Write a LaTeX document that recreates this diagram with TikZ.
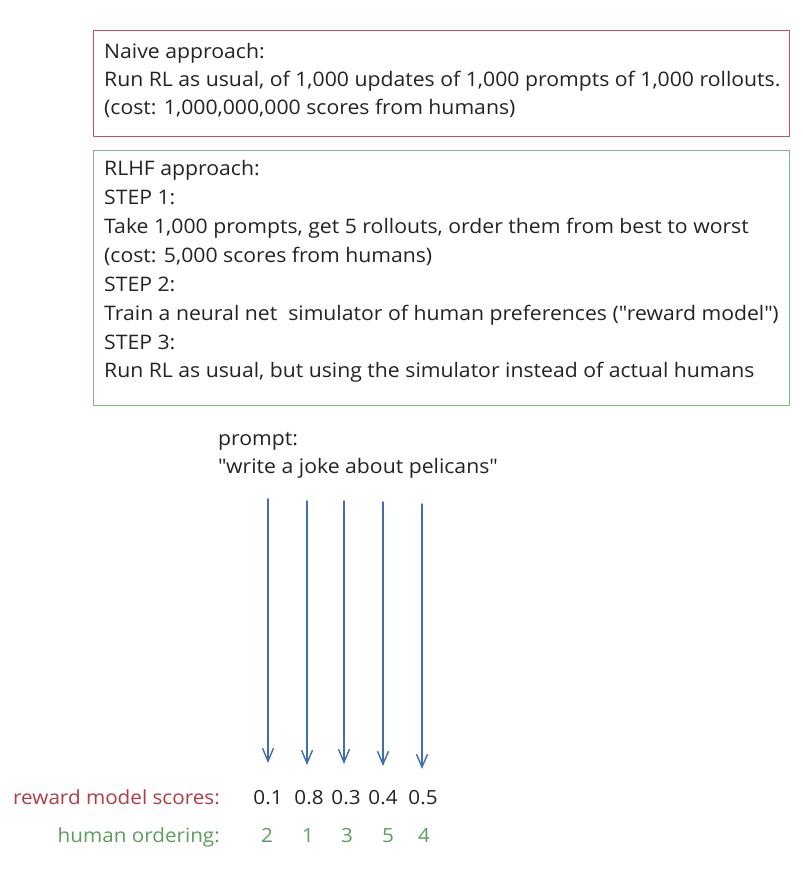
\documentclass[tikz,border=0pt]{standalone}
\usepackage{fontspec}
\setmainfont{Open Sans}[FakeStretch=1.06]
\usetikzlibrary{arrows.meta,positioning}
\definecolor{inkgray}{RGB}{35,35,35}
\definecolor{boxred}{RGB}{190,85,95}
\definecolor{labred}{RGB}{175,60,70}
\definecolor{boxgreen}{RGB}{125,185,125}
\definecolor{labgreen}{RGB}{90,160,90}
\definecolor{arrblue}{RGB}{65,110,175}
\newcommand{\qq}{\textquotedbl}
\tikzset{
  txt/.style={anchor=base west,inner sep=0pt,text=inkgray,font=\fontsize{20}{24}\selectfont},
  panel/.style={draw=#1,line width=1.2pt,anchor=north west,inner sep=0pt},
  rowlab/.style={anchor=base east,inner sep=0pt,font=\fontsize{19.5}{24}\selectfont},
  score/.style={anchor=base,inner sep=0pt,font=\fontsize{19.5}{24}\selectfont},
  flow/.style={draw=arrblue,line width=1.4pt,-{Straight Barb[length=13pt,width=11pt]}}
}
\begin{document}
\begin{tikzpicture}[x=1pt,y=-1pt,line join=round,line cap=round]
\useasboundingbox (0,0) rectangle (802,874);
% the two boxes
\node[panel=boxred,minimum width=696pt,minimum height=106pt] (naive) at (93,30) {};
\node[panel=boxgreen,minimum width=696pt,minimum height=255pt] (rlhf) at (93,150) {};
\foreach \t [count=\i] in {{Naive approach:},{Run RL as usual, of 1,000 updates of 1,000 prompts of 1,000 rollouts.},{(cost: 1,000,000,000 scores from humans)}}
  \node[txt] (n\i) at (104,{59+28*(\i-1)}) {\t};
\foreach \t [count=\i] in {{RLHF approach:},{STEP 1:},{Take 1,000 prompts, get 5 rollouts, order them from best to worst},{(cost: 5,000 scores from humans)},{STEP 2:},{Train a neural net\ \ simulator of human preferences (\qq reward model\qq)},{STEP 3:},{Run RL as usual, but using the simulator instead of actual humans}}
  \node[txt] (r\i) at (104,{176+28.85*(\i-1)}) {\t};
% prompt
\node[txt] (p1) at (218,445) {prompt:};
\node[txt] (p2) at (218,473) {\qq write a joke about pelicans\qq};
% rollouts, scores and ordering
\node[rowlab,text=labred] (slab) at (220,804) {reward model scores:};
\node[rowlab,text=labgreen] (hlab) at (220,842) {human ordering:};
\foreach \xa/\ya/\yb/\xs/\s/\xh/\h [count=\i] in {268/499/763/268/0.1/267/2,307/501/765/309/0.8/308/1,344/501/764/346/0.3/347/3,383/502/766/383/0.4/388/5,422/504/769/423/0.5/424/4}{
  \coordinate (t\i) at (\xa,\ya);
  \coordinate (b\i) at (\xa,\yb);
  \draw[flow] (t\i) -- (b\i);
  \node[score,text=inkgray] (s\i) at (\xs,804) {\s};
  \node[score,text=labgreen] (h\i) at (\xh,842) {\h};
}
\end{tikzpicture}
\end{document}
